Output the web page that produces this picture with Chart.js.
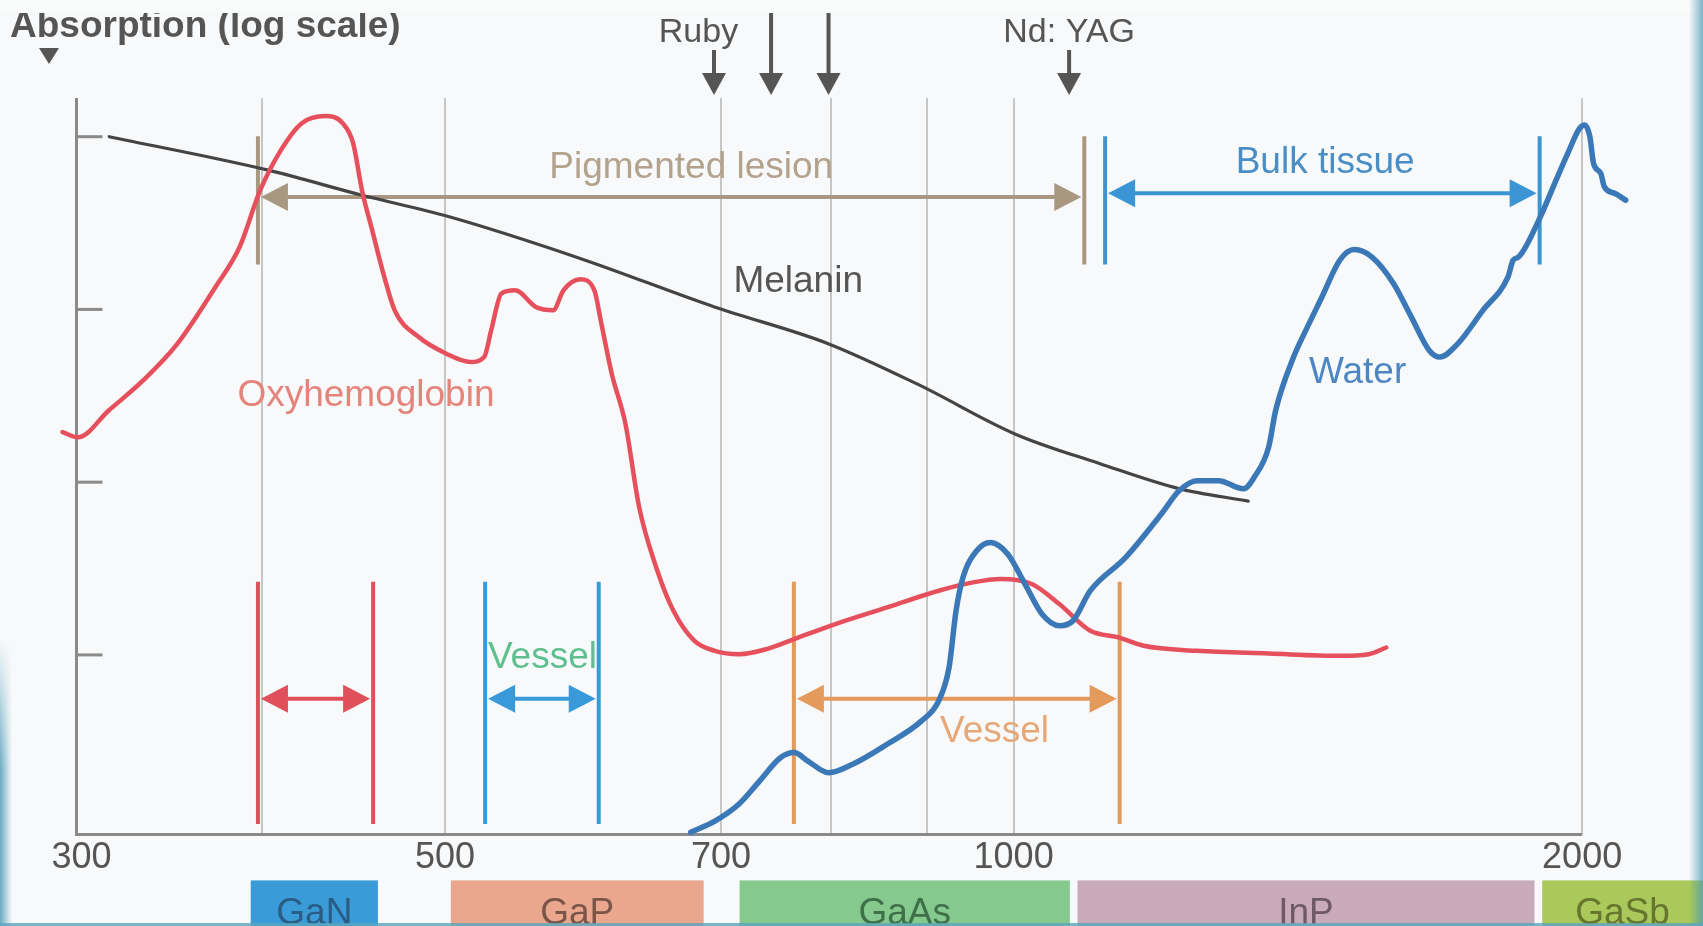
<!DOCTYPE html>
<html>
<head>
<meta charset="utf-8">
<title>Absorption spectra</title>
<script src="https://cdn.jsdelivr.net/npm/chart.js@4.4.1/dist/chart.umd.min.js"></script>
<style>
  html, body { margin: 0; padding: 0; background: #f7f9fa; overflow: hidden; }
  #wrap { position: relative; width: 1703px; height: 926px; }
  #edgeLeft { position: absolute; left: 0; top: 640px; width: 12px; height: 286px;
    background: linear-gradient(to right, rgba(70,150,180,0.8), rgba(70,150,180,0));
    -webkit-mask-image: linear-gradient(to bottom, transparent, black 45%);
    mask-image: linear-gradient(to bottom, transparent, black 45%); }
  #edgeRight { position: absolute; right: 0; top: 0; width: 14px; height: 926px;
    background: linear-gradient(to left, rgba(70,150,180,0.7), rgba(70,150,180,0)); }
  #edgeBottom { position: absolute; left: 0; bottom: 0; width: 1703px; height: 3px;
    background: rgba(90,165,190,0.8); }
</style>
</head>
<body>
<div id="wrap">
  <canvas id="spectra" width="1703" height="926"></canvas>
  <div id="edgeLeft"></div>
  <div id="edgeRight"></div>
  <div id="edgeBottom"></div>
</div>
<script>
// wavelength in nm, absorption in arbitrary units (log axis)
const melaninNm = [332, 403, 452, 502, 589, 695, 797, 890, 1003, 1111, 1223, 1331];
const melaninAbs = [1000, 640, 458, 345, 198, 103, 63.6, 36.8, 18.9, 12.8, 9.18, 7.77];

const oxyNm = [313.6, 319.6, 331.8, 346, 360.8, 377.9, 389.2, 399.1, 409.3, 419.7, 432.2, 441.4, 447, 451.8,
  457.5, 464.3, 470.2, 484.2, 500.8, 515.7, 524.4, 528.9, 535.5, 544.6, 558.5, 570.4, 577.6, 589.6, 599.8,
  604.9, 612.6, 622.9, 633.5, 646.8, 660.5, 677.4, 694.7, 715.5, 739.8, 765.2, 804.7, 857, 912.7, 951.8,
  984.5, 1022.4, 1057.3, 1098, 1136.5, 1171.8, 1250.6, 1364.6, 1488.5, 1541.4, 1575.2];
const oxyAbs = [19.5, 18.2, 26.0, 38.8, 63.4, 135, 230, 490, 836, 1194, 1316, 1194, 915, 490,
  287, 154, 98.8, 69.2, 55.4, 49.6, 53.0, 75.6, 123.5, 129, 103.2, 98.8, 129, 149.5, 129,
  83.1, 42.6, 21.9, 7.15, 3.21, 1.80, 1.21, 1.056, 1.01, 1.08, 1.235, 1.509, 1.883, 2.353, 2.63,
  2.75, 2.573, 1.97, 1.379, 1.262, 1.129, 1.056, 1.019, 0.988, 1.01, 1.104];

const waterNm = [674.6, 694.7, 715.5, 733.6, 752.5, 765.2, 778.2, 798, 821.8, 857, 893.8, 912.7, 924.3,
  932.2, 940.1, 956, 972.2, 992.8, 1014, 1035.4, 1057.3, 1075.1, 1098, 1146.4, 1197.4, 1223.9, 1250.6,
  1283.9, 1323.6, 1340.9, 1364.6, 1376.4, 1406.8, 1425.2, 1456.3, 1488.5, 1514.9, 1547.9, 1589.3, 1624.1,
  1659.9, 1681.7, 1718.8, 1772, 1826.9, 1838.7, 1850.8, 1899.8, 1933.2, 1967.1, 1993, 2006, 2019, 2028,
  2046, 2055, 2082, 2109];
const waterAbs = [0.094, 0.109, 0.137, 0.186, 0.254, 0.272, 0.243, 0.208, 0.233, 0.304, 0.415, 0.542, 0.845,
  1.80, 2.81, 4.01, 4.48, 3.84, 2.57, 1.72, 1.475, 1.577, 2.353, 3.67, 6.55, 8.94, 10.2,
  10.2, 9.15, 10.68, 15.9, 26.0, 53.0, 72.4, 118, 193, 222, 201, 141, 90.3,
  57.9, 53.0, 63.4, 98.8, 154, 193, 201, 340, 530, 820, 1110, 1167, 999, 700,
  613, 512, 469, 429];

const axisOriginNm = 319; // the picture labels its axis origin "300"
const gridNm = [axisOriginNm, 400, 500, 700, 800, 900, 1000, 2000];
const tickText = { [axisOriginNm]: ' 300', 500: '500', 700: '700', 1000: '1000', 2000: '2000' };
const yTickAbs = [1, 10, 100, 1000];

const laserNm = [694, 744, 798, 1070];
const laserNames = ['Ruby', '', '', 'Nd: YAG'];
const laserLabelNm = [681, null, null, 1070];

const rangeNames = ['Pigmented lesion', 'Bulk tissue', '', 'Vessel', 'Vessel'];
const rangeFromNm = [398, 1118, 398, 525, 765];
const rangeToNm = [1090, 1899, 458, 603, 1138];
const rangeTopAbs = [1007, 1007, 2.65, 2.65, 2.65];
const rangeBottomAbs = [182, 182, 0.105, 0.105, 0.105];
const rangeArrowAbs = [447, 471, 0.557, 0.557, 0.557];
const rangeLabelNm = [675, 1462, null, 563, 977];
const rangeLabelAbs = [658, 703, null, 0.96, 0.357];

const curveNames = ['Melanin', 'Oxyhemoglobin', 'Water'];
const curveLabelNm = [769, 454, 1521];
const curveLabelAbs = [144, 31.8, 43.2];

const chipNames = ['GaN', 'GaP', 'GaAs', 'InP', 'GaSb'];
const chipFromNm = [394.5, 503.5, 716, 1081, 1905];
const chipToNm = [460.7, 685.3, 1071, 1887, 2317];

// styles
const FONT = '"Liberation Sans", Arial, sans-serif';
const rangeColors = ['#a89882', '#3b95d5', '#e0505a', '#3a9ad9', '#e39a5a'];
const rangeTextColors = ['#b3a28c', '#4a8ec6', '#e0505a', '#5fbf8f', '#e6a877'];
const curveColors = ['#444444', '#e5505c', '#3a78b8'];
const curveTextColors = ['#555555', '#e4847a', '#4d86c2'];
const chipColors = ['#3b9bd8', '#eba78e', '#86c98f', '#c9aabb', '#abc95a'];
const chipTextColors = ['#2a5d84', '#7a5548', '#3f7048', '#6f5868', '#66762f'];

const toPoints = (xs, ys) => xs.map((v, i) => ({ x: v, y: ys[i] }));

function line(ctx, x1, y1, x2, y2) {
  ctx.beginPath(); ctx.moveTo(x1, y1); ctx.lineTo(x2, y2); ctx.stroke();
}
function head(ctx, tipX, tipY, dir, len, half) {
  // dir: +1 points right, -1 points left, 'down' points down
  ctx.beginPath();
  if (dir === 'down') {
    ctx.moveTo(tipX, tipY); ctx.lineTo(tipX - half, tipY - len); ctx.lineTo(tipX + half, tipY - len);
  } else {
    ctx.moveTo(tipX, tipY); ctx.lineTo(tipX - dir * len, tipY - half); ctx.lineTo(tipX - dir * len, tipY + half);
  }
  ctx.closePath(); ctx.fill();
}

const decorations = {
  id: 'decorations',
  beforeDatasetsDraw(chart) {
    const { ctx, chartArea: area, scales: { x, y } } = chart;
    ctx.save();

    // axis lines and y tick marks
    ctx.strokeStyle = '#8a8a8a';
    ctx.lineWidth = 3;
    const x0 = x.getPixelForValue(axisOriginNm);
    line(ctx, x0 - 1.5, area.bottom, x.getPixelForValue(2000), area.bottom);
    yTickAbs.forEach(v => {
      const py = y.getPixelForValue(v);
      line(ctx, x0, py, x0 + 26, py);
    });

    // wavelength ranges
    rangeNames.forEach((name, i) => {
      const x1 = x.getPixelForValue(rangeFromNm[i]);
      const x2 = x.getPixelForValue(rangeToNm[i]);
      const yt = y.getPixelForValue(rangeTopAbs[i]);
      const yb = y.getPixelForValue(rangeBottomAbs[i]);
      const ya = y.getPixelForValue(rangeArrowAbs[i]);
      ctx.strokeStyle = rangeColors[i];
      ctx.fillStyle = rangeColors[i];
      ctx.lineWidth = 4;
      line(ctx, x1, yt, x1, yb);
      line(ctx, x2, yt, x2, yb);
      line(ctx, x1 + 20, ya, x2 - 20, ya);
      head(ctx, x1 + 3, ya, -1, 27, 14);
      head(ctx, x2 - 3, ya, 1, 27, 14);
      if (name) {
        ctx.fillStyle = rangeTextColors[i];
        ctx.font = '37px ' + FONT;
        ctx.textAlign = 'center';
        ctx.textBaseline = 'middle';
        ctx.fillText(name, x.getPixelForValue(rangeLabelNm[i]), y.getPixelForValue(rangeLabelAbs[i]));
      }
    });

    // curve names
    ctx.font = '37px ' + FONT;
    ctx.textAlign = 'center';
    ctx.textBaseline = 'middle';
    curveNames.forEach((name, i) => {
      ctx.fillStyle = curveTextColors[i];
      ctx.fillText(name, x.getPixelForValue(curveLabelNm[i]), y.getPixelForValue(curveLabelAbs[i]));
    });

    // laser arrows above the plot
    ctx.strokeStyle = '#555555';
    ctx.fillStyle = '#555555';
    ctx.lineWidth = 4;
    laserNm.forEach((nm, i) => {
      const px = x.getPixelForValue(nm);
      const tip = area.top - 3;
      const start = laserNames[i] ? area.top - 48 : 0;
      line(ctx, px, start, px, tip - 15);
      head(ctx, px, tip, 'down', 22, 12);
      if (laserNames[i]) {
        ctx.font = '34px ' + FONT;
        ctx.textAlign = 'center';
        ctx.textBaseline = 'alphabetic';
        ctx.fillText(laserNames[i], x.getPixelForValue(laserLabelNm[i]), area.top - 56);
      }
    });

    // semiconductor bands under the axis
    const bandTop = area.bottom + 46;
    chipNames.forEach((name, i) => {
      const a = x.getPixelForValue(chipFromNm[i]);
      const b = x.getPixelForValue(chipToNm[i]);
      ctx.fillStyle = chipColors[i];
      ctx.fillRect(a, bandTop, b - a, chart.height - bandTop);
      ctx.fillStyle = chipTextColors[i];
      ctx.font = '37px ' + FONT;
      ctx.textAlign = 'center';
      ctx.textBaseline = 'alphabetic';
      ctx.fillText(name, (a + b) / 2, chart.height - 2);
    });

    // axis title, partly hidden by the top band
    ctx.fillStyle = '#555555';
    ctx.font = 'bold 37px ' + FONT;
    ctx.textAlign = 'left';
    ctx.textBaseline = 'alphabetic';
    ctx.fillText('Absorption (log scale)', 10, 37);
    ctx.beginPath();
    ctx.moveTo(39, 48); ctx.lineTo(59, 48); ctx.lineTo(49, 64);
    ctx.closePath(); ctx.fill();
    ctx.fillStyle = '#fafbfb';
    ctx.fillRect(0, 0, chart.width, 13);

    ctx.restore();
  }
};

const lineStyle = {
  pointRadius: 0,
  fill: false,
  clip: false,
  cubicInterpolationMode: 'monotone',
  borderCapStyle: 'round',
  borderJoinStyle: 'round'
};

new Chart(document.getElementById('spectra'), {
  type: 'line',
  data: {
    datasets: [
      { label: 'Water', data: toPoints(waterNm, waterAbs), borderColor: curveColors[2], borderWidth: 5.5, ...lineStyle },
      { label: 'Oxyhemoglobin', data: toPoints(oxyNm, oxyAbs), borderColor: curveColors[1], borderWidth: 4.5, ...lineStyle },
      { label: 'Melanin', data: toPoints(melaninNm, melaninAbs), borderColor: curveColors[0], borderWidth: 3.2, ...lineStyle }
    ]
  },
  options: {
    responsive: false,
    devicePixelRatio: 1,
    animation: false,
    events: [],
    layout: { padding: { left: 53, right: 75, top: 98, bottom: 43.6 } },
    plugins: { legend: { display: false }, tooltip: { enabled: false } },
    scales: {
      x: {
        type: 'logarithmic',
        min: 310,
        max: 2115,
        afterBuildTicks: scale => { scale.ticks = gridNm.map(v => ({ value: v })); },
        border: { display: false },
        grid: {
          drawTicks: false,
          color: ctx => (ctx.tick && ctx.tick.value === axisOriginNm) ? '#8a8a8a' : '#c6c6c6',
          lineWidth: ctx => (ctx.tick && ctx.tick.value === axisOriginNm) ? 3 : 2
        },
        ticks: {
          autoSkip: false,
          maxRotation: 0,
          padding: 6,
          color: '#555555',
          font: { family: FONT, size: 36, lineHeight: 1 },
          callback: v => tickText[v] || ''
        }
      },
      y: {
        type: 'logarithmic',
        display: false,
        min: 0.0914,
        max: 1675
      }
    }
  },
  plugins: [decorations]
});
</script>
</body>
</html>
